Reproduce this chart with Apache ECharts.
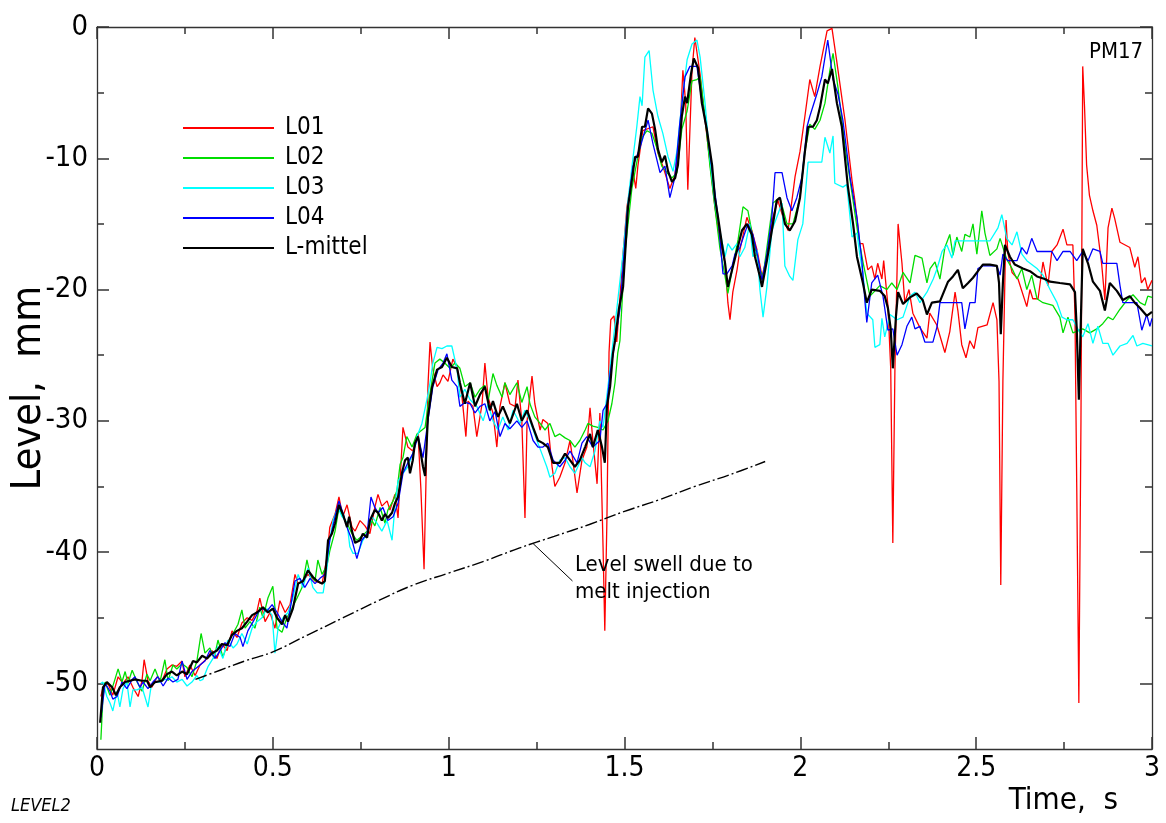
<!DOCTYPE html>
<html>
<head>
<meta charset="utf-8">
<title>PM17 level</title>
<script src="https://cdn.jsdelivr.net/npm/echarts@6/dist/echarts.min.js"></script>
<style>
  html, body { margin: 0; padding: 0; background: #fff; }
  #chart { width: 1166px; height: 823px; }
</style>
</head>
<body>
<div id="chart"></div>
<script>
// Level traces of the four probes and their mean, [time s, level mm]
const L01 = [[0.011,-51.0],[0.017,-50.3],[0.031,-50.0],[0.045,-50.9],[0.060,-49.5],[0.074,-50.0],[0.088,-49.5],[0.102,-50.3],[0.117,-51.0],[0.128,-49.8],[0.134,-48.2],[0.145,-49.8],[0.156,-50.3],[0.171,-49.5],[0.185,-49.8],[0.199,-48.9],[0.213,-48.6],[0.227,-48.7],[0.242,-48.3],[0.250,-49.5],[0.264,-48.6],[0.279,-49.4],[0.293,-48.6],[0.313,-48.1],[0.327,-47.5],[0.341,-48.1],[0.355,-47.0],[0.370,-47.5],[0.384,-46.0],[0.398,-46.5],[0.412,-45.4],[0.427,-45.0],[0.441,-45.2],[0.455,-44.5],[0.463,-43.5],[0.478,-45.3],[0.492,-44.6],[0.506,-45.8],[0.520,-43.7],[0.535,-44.6],[0.549,-44.0],[0.563,-41.7],[0.572,-42.4],[0.586,-42.2],[0.600,-41.7],[0.620,-42.2],[0.640,-42.4],[0.654,-40.4],[0.662,-38.1],[0.677,-37.1],[0.688,-35.8],[0.699,-37.3],[0.711,-36.4],[0.725,-38.1],[0.734,-38.4],[0.748,-37.6],[0.762,-38.0],[0.776,-38.6],[0.790,-36.6],[0.799,-35.6],[0.810,-36.5],[0.825,-36.1],[0.833,-36.8],[0.847,-35.6],[0.856,-37.4],[0.867,-32.0],[0.870,-30.5],[0.884,-32.0],[0.898,-32.3],[0.913,-31.0],[0.921,-35.2],[0.930,-41.3],[0.935,-35.2],[0.941,-27.4],[0.947,-24.0],[0.955,-26.1],[0.967,-27.4],[0.975,-27.1],[0.984,-26.5],[0.998,-27.0],[1.012,-25.3],[1.024,-25.9],[1.038,-28.2],[1.049,-31.2],[1.055,-28.5],[1.069,-28.9],[1.080,-31.2],[1.095,-28.7],[1.103,-25.6],[1.112,-28.2],[1.126,-29.4],[1.137,-32.0],[1.146,-28.9],[1.160,-27.1],[1.174,-28.7],[1.189,-28.9],[1.197,-26.9],[1.208,-30.0],[1.217,-37.4],[1.223,-30.0],[1.237,-26.6],[1.245,-28.7],[1.260,-30.7],[1.268,-29.9],[1.282,-30.2],[1.294,-33.5],[1.302,-35.0],[1.316,-34.3],[1.331,-33.2],[1.345,-31.5],[1.353,-33.0],[1.365,-35.5],[1.379,-33.0],[1.393,-32.0],[1.402,-29.0],[1.410,-31.5],[1.422,-34.8],[1.430,-29.4],[1.439,-39.6],[1.444,-46.0],[1.450,-37.5],[1.456,-24.8],[1.461,-22.3],[1.470,-22.0],[1.478,-24.0],[1.496,-17.2],[1.507,-13.7],[1.524,-10.9],[1.532,-12.3],[1.538,-10.6],[1.552,-7.9],[1.581,-7.6],[1.595,-9.6],[1.609,-10.6],[1.629,-12.3],[1.643,-11.3],[1.657,-8.5],[1.666,-3.3],[1.674,-5.8],[1.680,-12.4],[1.692,-3.3],[1.700,-0.8],[1.715,-3.6],[1.729,-7.1],[1.743,-10.3],[1.757,-13.7],[1.771,-16.2],[1.786,-18.0],[1.794,-21.0],[1.800,-22.3],[1.808,-20.2],[1.820,-18.5],[1.828,-17.0],[1.848,-14.5],[1.862,-15.5],[1.877,-17.0],[1.891,-19.0],[1.905,-17.5],[1.922,-14.5],[1.936,-13.2],[1.951,-14.5],[1.965,-15.5],[1.985,-11.4],[1.999,-9.5],[2.013,-6.8],[2.027,-4.0],[2.041,-5.3],[2.056,-3.0],[2.076,-0.3],[2.090,-0.1],[2.104,-2.7],[2.127,-7.1],[2.147,-11.7],[2.155,-13.2],[2.169,-16.5],[2.178,-16.5],[2.192,-18.5],[2.203,-18.2],[2.212,-19.2],[2.220,-18.0],[2.232,-19.2],[2.237,-17.8],[2.249,-21.2],[2.257,-26.0],[2.263,-39.3],[2.269,-26.0],[2.278,-15.0],[2.289,-18.0],[2.297,-21.0],[2.309,-20.0],[2.320,-21.8],[2.340,-22.9],[2.360,-23.7],[2.368,-21.8],[2.388,-22.7],[2.411,-24.8],[2.425,-23.2],[2.440,-20.2],[2.448,-21.6],[2.459,-24.2],[2.471,-25.2],[2.482,-23.9],[2.494,-24.5],[2.505,-22.9],[2.531,-22.7],[2.548,-21.0],[2.559,-22.3],[2.565,-27.0],[2.570,-42.5],[2.576,-27.0],[2.585,-14.7],[2.590,-17.2],[2.602,-18.7],[2.619,-19.2],[2.644,-21.3],[2.653,-20.0],[2.661,-20.7],[2.676,-20.7],[2.690,-17.9],[2.704,-19.7],[2.715,-17.1],[2.730,-16.6],[2.747,-15.4],[2.758,-16.6],[2.775,-16.6],[2.781,-22.0],[2.786,-35.0],[2.792,-51.5],[2.798,-30.0],[2.803,-3.0],[2.808,-6.0],[2.814,-10.5],[2.822,-12.8],[2.832,-14.0],[2.843,-15.1],[2.857,-18.1],[2.866,-20.8],[2.875,-15.3],[2.886,-13.8],[2.894,-14.6],[2.909,-16.4],[2.937,-16.8],[2.951,-18.3],[2.960,-17.5],[2.970,-19.5],[2.980,-19.1],[2.988,-20.0],[3.000,-19.3]];

const L02 = [[0.011,-54.3],[0.017,-51.0],[0.023,-49.9],[0.037,-50.9],[0.051,-49.7],[0.060,-48.9],[0.071,-49.9],[0.080,-49.1],[0.088,-50.0],[0.100,-49.0],[0.114,-49.9],[0.128,-50.6],[0.142,-49.3],[0.151,-49.8],[0.165,-48.9],[0.179,-49.9],[0.193,-48.2],[0.202,-49.8],[0.216,-48.6],[0.227,-48.9],[0.242,-48.5],[0.256,-48.8],[0.270,-49.5],[0.284,-48.3],[0.296,-46.2],[0.307,-47.7],[0.321,-47.3],[0.333,-48.1],[0.344,-46.7],[0.358,-48.0],[0.372,-46.9],[0.387,-46.2],[0.401,-45.5],[0.412,-44.4],[0.421,-45.8],[0.435,-45.3],[0.449,-45.8],[0.463,-44.2],[0.472,-45.0],[0.486,-43.5],[0.500,-42.6],[0.512,-45.8],[0.526,-46.1],[0.540,-45.0],[0.554,-44.3],[0.569,-43.5],[0.583,-42.7],[0.597,-40.6],[0.606,-41.7],[0.620,-42.2],[0.628,-40.6],[0.640,-41.7],[0.654,-41.0],[0.662,-39.9],[0.677,-38.4],[0.688,-36.6],[0.699,-37.3],[0.711,-37.8],[0.725,-38.6],[0.739,-39.1],[0.753,-38.8],[0.768,-38.4],[0.782,-37.6],[0.790,-38.0],[0.805,-36.6],[0.819,-37.8],[0.827,-36.8],[0.842,-36.1],[0.853,-35.3],[0.862,-33.3],[0.870,-32.8],[0.881,-31.2],[0.896,-32.0],[0.910,-31.0],[0.924,-30.7],[0.933,-30.5],[0.941,-28.9],[0.953,-26.9],[0.961,-25.6],[0.975,-25.3],[0.989,-25.6],[1.004,-26.0],[1.018,-25.6],[1.032,-26.0],[1.046,-27.4],[1.061,-27.1],[1.075,-28.2],[1.089,-27.6],[1.103,-27.3],[1.112,-28.5],[1.126,-26.4],[1.137,-27.3],[1.152,-28.2],[1.160,-27.1],[1.174,-28.0],[1.194,-27.1],[1.208,-28.6],[1.223,-27.4],[1.231,-28.7],[1.245,-29.7],[1.260,-30.2],[1.274,-30.7],[1.288,-30.2],[1.302,-31.2],[1.316,-31.0],[1.331,-31.3],[1.345,-31.5],[1.359,-32.0],[1.373,-31.5],[1.388,-30.7],[1.396,-30.2],[1.410,-30.4],[1.424,-30.5],[1.439,-30.7],[1.453,-30.0],[1.464,-28.7],[1.473,-27.1],[1.481,-24.8],[1.487,-23.9],[1.501,-17.2],[1.521,-12.3],[1.535,-10.3],[1.550,-8.4],[1.564,-7.9],[1.578,-8.1],[1.592,-9.2],[1.606,-10.6],[1.621,-11.1],[1.635,-11.5],[1.649,-11.1],[1.663,-7.8],[1.678,-6.4],[1.692,-4.1],[1.706,-4.0],[1.715,-3.8],[1.729,-6.8],[1.743,-10.6],[1.757,-13.7],[1.771,-16.8],[1.786,-19.0],[1.794,-20.3],[1.808,-18.2],[1.823,-16.2],[1.837,-13.7],[1.851,-14.0],[1.865,-16.0],[1.885,-18.5],[1.894,-19.0],[1.908,-16.2],[1.922,-13.4],[1.942,-13.0],[1.962,-15.0],[1.979,-15.0],[1.999,-13.0],[2.013,-9.5],[2.027,-7.4],[2.041,-7.8],[2.056,-7.1],[2.070,-5.8],[2.084,-3.3],[2.093,-2.0],[2.107,-4.6],[2.127,-9.1],[2.147,-12.7],[2.164,-15.8],[2.178,-17.9],[2.198,-20.5],[2.226,-19.7],[2.246,-20.0],[2.260,-19.5],[2.275,-20.0],[2.292,-18.7],[2.312,-19.5],[2.326,-17.4],[2.346,-17.6],[2.360,-19.5],[2.369,-18.4],[2.383,-17.9],[2.397,-19.2],[2.411,-16.8],[2.425,-15.8],[2.434,-17.4],[2.445,-16.0],[2.459,-17.1],[2.468,-15.8],[2.482,-16.0],[2.491,-15.0],[2.502,-17.3],[2.516,-14.0],[2.525,-15.7],[2.539,-17.4],[2.559,-16.9],[2.568,-16.1],[2.587,-17.7],[2.602,-18.4],[2.616,-19.2],[2.630,-18.4],[2.644,-20.0],[2.658,-18.9],[2.673,-20.7],[2.690,-21.0],[2.718,-21.2],[2.738,-22.1],[2.747,-23.3],[2.761,-22.1],[2.775,-23.3],[2.803,-23.0],[2.823,-23.3],[2.843,-23.0],[2.860,-22.6],[2.875,-22.1],[2.889,-22.3],[2.909,-21.5],[2.929,-20.8],[2.946,-20.4],[2.966,-21.0],[2.980,-21.2],[2.988,-20.5],[3.000,-20.6]];

const L03 = [[0.011,-50.0],[0.017,-49.9],[0.028,-51.0],[0.037,-51.5],[0.045,-52.1],[0.057,-50.6],[0.065,-51.8],[0.074,-50.4],[0.085,-49.9],[0.094,-51.8],[0.102,-50.5],[0.114,-50.5],[0.128,-50.3],[0.136,-51.0],[0.145,-51.8],[0.154,-50.2],[0.165,-49.9],[0.179,-49.9],[0.193,-49.7],[0.202,-49.7],[0.213,-49.5],[0.227,-49.9],[0.242,-49.7],[0.256,-50.2],[0.270,-49.9],[0.284,-49.4],[0.293,-49.8],[0.301,-49.7],[0.316,-48.7],[0.330,-48.1],[0.344,-47.2],[0.358,-48.1],[0.372,-46.7],[0.387,-47.3],[0.398,-47.0],[0.412,-46.2],[0.427,-47.0],[0.441,-45.8],[0.455,-45.3],[0.469,-45.0],[0.483,-44.3],[0.498,-44.8],[0.506,-47.7],[0.515,-45.8],[0.529,-45.0],[0.543,-44.6],[0.557,-43.5],[0.572,-41.7],[0.586,-42.7],[0.600,-41.2],[0.614,-42.7],[0.626,-43.1],[0.643,-43.1],[0.654,-41.2],[0.662,-39.1],[0.671,-37.6],[0.685,-36.6],[0.697,-37.3],[0.711,-37.8],[0.719,-39.6],[0.728,-40.1],[0.742,-40.1],[0.756,-39.1],[0.768,-38.6],[0.782,-37.3],[0.796,-37.8],[0.810,-38.4],[0.825,-37.6],[0.839,-39.1],[0.847,-36.6],[0.856,-34.6],[0.870,-34.0],[0.884,-33.5],[0.898,-32.5],[0.910,-31.2],[0.924,-30.2],[0.938,-28.4],[0.947,-27.1],[0.955,-25.6],[0.967,-24.4],[0.981,-24.5],[0.995,-24.3],[1.009,-24.3],[1.024,-26.1],[1.032,-28.2],[1.046,-27.6],[1.061,-28.4],[1.080,-28.9],[1.098,-30.0],[1.112,-28.7],[1.126,-30.0],[1.140,-30.7],[1.154,-29.7],[1.169,-30.7],[1.183,-29.2],[1.203,-30.2],[1.217,-29.2],[1.231,-30.0],[1.251,-31.5],[1.265,-32.5],[1.279,-33.5],[1.288,-34.3],[1.302,-34.0],[1.316,-33.0],[1.331,-32.8],[1.345,-33.5],[1.359,-34.0],[1.379,-32.8],[1.388,-33.2],[1.402,-33.5],[1.416,-32.3],[1.430,-30.0],[1.439,-30.5],[1.453,-27.4],[1.464,-24.8],[1.481,-20.8],[1.496,-17.2],[1.510,-13.2],[1.524,-10.0],[1.535,-7.6],[1.544,-5.3],[1.550,-6.0],[1.558,-2.3],[1.570,-1.8],[1.581,-4.8],[1.595,-6.8],[1.609,-8.1],[1.624,-9.9],[1.638,-11.0],[1.649,-9.5],[1.663,-5.8],[1.678,-2.5],[1.692,-1.3],[1.706,-1.0],[1.715,-2.3],[1.729,-5.8],[1.743,-10.0],[1.757,-13.4],[1.771,-15.5],[1.786,-17.5],[1.794,-16.5],[1.806,-17.0],[1.820,-16.5],[1.828,-17.5],[1.842,-16.8],[1.856,-15.0],[1.865,-17.5],[1.877,-17.0],[1.885,-20.0],[1.894,-22.1],[1.905,-19.8],[1.919,-15.5],[1.933,-14.5],[1.948,-13.4],[1.956,-18.2],[1.970,-19.0],[1.979,-19.3],[1.993,-16.2],[2.007,-15.0],[2.022,-10.3],[2.061,-10.3],[2.070,-8.4],[2.084,-9.6],[2.093,-8.3],[2.098,-11.9],[2.121,-12.2],[2.132,-12.0],[2.147,-16.0],[2.161,-15.7],[2.169,-17.3],[2.178,-18.8],[2.189,-21.8],[2.206,-22.3],[2.212,-24.4],[2.226,-24.2],[2.232,-22.2],[2.240,-23.6],[2.255,-21.9],[2.275,-22.3],[2.292,-22.1],[2.312,-20.5],[2.326,-20.2],[2.340,-21.0],[2.360,-20.2],[2.378,-19.2],[2.389,-18.4],[2.403,-17.1],[2.417,-16.6],[2.431,-17.6],[2.440,-16.3],[2.454,-16.3],[2.491,-16.3],[2.539,-16.3],[2.562,-15.3],[2.573,-14.3],[2.587,-16.1],[2.602,-16.6],[2.616,-15.6],[2.630,-17.3],[2.644,-17.8],[2.673,-18.4],[2.690,-18.9],[2.710,-20.0],[2.730,-21.0],[2.744,-22.1],[2.758,-22.3],[2.775,-22.3],[2.789,-23.0],[2.803,-23.6],[2.818,-22.6],[2.832,-24.1],[2.846,-22.8],[2.860,-24.1],[2.875,-24.1],[2.889,-25.0],[2.909,-24.3],[2.929,-24.1],[2.946,-23.5],[2.957,-24.3],[2.974,-24.1],[3.000,-24.3]];

const L04 = [[0.011,-52.6],[0.023,-50.0],[0.037,-50.6],[0.045,-51.2],[0.057,-51.0],[0.071,-49.9],[0.085,-50.4],[0.100,-49.7],[0.108,-49.5],[0.122,-50.3],[0.131,-49.9],[0.145,-50.4],[0.159,-49.9],[0.173,-49.5],[0.188,-50.2],[0.202,-49.6],[0.216,-49.9],[0.230,-49.7],[0.242,-48.3],[0.256,-49.7],[0.270,-49.1],[0.279,-48.9],[0.293,-48.6],[0.307,-48.3],[0.321,-47.5],[0.336,-48.1],[0.350,-47.5],[0.364,-46.9],[0.378,-47.2],[0.392,-46.2],[0.407,-46.5],[0.415,-47.2],[0.429,-46.0],[0.444,-45.3],[0.458,-44.6],[0.469,-44.3],[0.483,-44.5],[0.498,-44.0],[0.512,-44.6],[0.526,-45.3],[0.540,-45.8],[0.549,-44.4],[0.563,-42.2],[0.577,-42.0],[0.591,-42.7],[0.606,-42.0],[0.620,-42.4],[0.634,-42.0],[0.648,-41.7],[0.662,-39.1],[0.677,-37.3],[0.688,-36.1],[0.699,-37.0],[0.711,-38.1],[0.725,-39.1],[0.739,-40.5],[0.753,-39.1],[0.768,-38.6],[0.779,-35.8],[0.790,-36.6],[0.799,-37.0],[0.813,-36.6],[0.827,-37.6],[0.842,-37.3],[0.856,-36.3],[0.870,-34.0],[0.884,-33.2],[0.898,-32.5],[0.913,-31.2],[0.927,-32.8],[0.941,-30.0],[0.955,-27.4],[0.970,-26.1],[0.984,-25.6],[0.995,-24.9],[1.009,-26.9],[1.024,-27.4],[1.032,-28.9],[1.046,-28.6],[1.061,-28.7],[1.075,-29.4],[1.089,-28.9],[1.103,-28.7],[1.117,-30.0],[1.132,-29.3],[1.146,-31.2],[1.160,-30.2],[1.174,-30.6],[1.194,-30.0],[1.208,-30.5],[1.223,-30.0],[1.240,-31.5],[1.254,-32.0],[1.268,-32.0],[1.282,-31.7],[1.297,-33.0],[1.316,-33.5],[1.331,-33.0],[1.345,-32.3],[1.365,-33.2],[1.379,-31.7],[1.393,-31.2],[1.410,-32.0],[1.430,-31.5],[1.439,-29.2],[1.450,-28.7],[1.459,-26.4],[1.473,-23.9],[1.487,-21.5],[1.507,-14.3],[1.524,-10.6],[1.544,-9.2],[1.567,-7.1],[1.581,-8.9],[1.601,-11.1],[1.615,-10.6],[1.629,-13.0],[1.643,-11.5],[1.657,-7.4],[1.672,-3.8],[1.686,-3.0],[1.706,-3.0],[1.720,-5.6],[1.734,-7.8],[1.751,-11.3],[1.766,-14.5],[1.780,-18.8],[1.791,-18.8],[1.806,-18.2],[1.814,-17.3],[1.828,-16.8],[1.851,-15.0],[1.865,-15.8],[1.879,-17.5],[1.891,-19.3],[1.905,-17.3],[1.919,-14.5],[1.928,-11.1],[1.948,-11.1],[1.962,-13.0],[1.976,-14.0],[1.990,-13.0],[2.005,-11.4],[2.019,-7.6],[2.027,-6.8],[2.047,-5.1],[2.061,-3.8],[2.078,-1.0],[2.093,-4.0],[2.107,-5.1],[2.121,-7.1],[2.141,-11.4],[2.161,-14.5],[2.175,-17.8],[2.184,-21.0],[2.189,-22.5],[2.203,-19.5],[2.220,-18.9],[2.235,-20.5],[2.249,-23.1],[2.263,-23.0],[2.275,-25.0],[2.289,-24.2],[2.303,-22.8],[2.317,-22.1],[2.326,-23.0],[2.340,-22.8],[2.354,-24.0],[2.377,-24.0],[2.389,-22.8],[2.397,-21.0],[2.445,-21.0],[2.459,-21.0],[2.468,-23.0],[2.482,-21.0],[2.497,-21.0],[2.505,-18.4],[2.519,-18.2],[2.559,-18.2],[2.568,-18.9],[2.576,-17.3],[2.590,-17.8],[2.616,-17.8],[2.630,-16.8],[2.644,-17.3],[2.658,-16.1],[2.673,-17.1],[2.690,-17.1],[2.715,-17.1],[2.730,-17.8],[2.747,-17.1],[2.767,-17.1],[2.786,-17.8],[2.803,-17.1],[2.818,-17.8],[2.832,-16.9],[2.852,-17.1],[2.860,-18.0],[2.900,-18.0],[2.909,-19.7],[2.917,-21.0],[2.957,-21.0],[2.971,-23.1],[2.985,-21.9],[2.994,-22.8],[3.000,-22.2]];

const LMITTEL = [[0.009,-53.0],[0.017,-50.3],[0.028,-49.9],[0.043,-50.3],[0.054,-50.9],[0.065,-50.3],[0.080,-49.9],[0.094,-49.8],[0.108,-49.7],[0.128,-49.8],[0.142,-49.8],[0.151,-50.3],[0.165,-49.9],[0.185,-49.8],[0.199,-49.3],[0.213,-49.1],[0.227,-49.4],[0.242,-49.1],[0.256,-49.3],[0.273,-48.3],[0.284,-48.4],[0.299,-47.9],[0.313,-48.1],[0.327,-47.7],[0.341,-47.5],[0.355,-47.0],[0.370,-47.1],[0.384,-46.3],[0.398,-46.0],[0.412,-45.8],[0.427,-45.3],[0.441,-44.8],[0.455,-44.6],[0.472,-44.2],[0.486,-44.6],[0.500,-44.3],[0.512,-45.0],[0.526,-45.5],[0.535,-44.8],[0.543,-45.3],[0.557,-44.3],[0.572,-42.4],[0.586,-42.2],[0.600,-41.4],[0.614,-41.9],[0.626,-42.2],[0.640,-42.4],[0.648,-42.2],[0.657,-39.1],[0.668,-38.6],[0.677,-37.8],[0.688,-36.4],[0.699,-37.1],[0.711,-38.1],[0.717,-37.3],[0.725,-38.4],[0.734,-39.3],[0.748,-39.1],[0.756,-38.6],[0.768,-38.9],[0.776,-37.6],[0.790,-36.8],[0.799,-37.0],[0.810,-37.6],[0.819,-37.1],[0.827,-37.4],[0.839,-37.0],[0.847,-36.3],[0.856,-35.8],[0.867,-34.0],[0.876,-33.0],[0.884,-32.8],[0.890,-34.0],[0.898,-33.0],[0.904,-31.7],[0.913,-31.2],[0.927,-33.5],[0.933,-34.2],[0.941,-29.7],[0.953,-27.4],[0.967,-26.1],[0.981,-25.9],[0.995,-25.2],[1.009,-25.9],[1.024,-26.0],[1.032,-27.1],[1.046,-28.7],[1.061,-27.1],[1.075,-28.9],[1.089,-28.0],[1.103,-27.4],[1.117,-29.2],[1.126,-28.5],[1.140,-29.7],[1.154,-28.9],[1.174,-30.2],[1.194,-28.7],[1.208,-30.0],[1.223,-29.2],[1.240,-30.5],[1.254,-31.5],[1.268,-31.7],[1.282,-32.0],[1.297,-33.2],[1.316,-33.2],[1.331,-32.5],[1.345,-33.0],[1.359,-33.5],[1.373,-33.0],[1.388,-32.0],[1.402,-31.0],[1.410,-32.0],[1.424,-30.7],[1.436,-32.0],[1.444,-33.2],[1.450,-28.9],[1.459,-27.4],[1.467,-24.9],[1.473,-23.9],[1.484,-21.5],[1.496,-19.8],[1.510,-13.7],[1.524,-11.1],[1.530,-9.9],[1.538,-9.9],[1.550,-7.6],[1.558,-7.6],[1.567,-6.2],[1.578,-6.6],[1.587,-7.8],[1.595,-9.3],[1.606,-10.3],[1.615,-9.8],[1.624,-11.0],[1.635,-11.8],[1.644,-11.5],[1.652,-10.5],[1.663,-6.8],[1.672,-5.3],[1.678,-5.8],[1.689,-3.6],[1.697,-2.4],[1.709,-3.1],[1.720,-5.8],[1.734,-7.8],[1.749,-10.5],[1.757,-13.0],[1.766,-14.5],[1.777,-16.5],[1.786,-18.0],[1.794,-19.8],[1.806,-18.5],[1.820,-17.0],[1.834,-15.5],[1.848,-15.0],[1.862,-15.8],[1.871,-17.5],[1.885,-19.0],[1.891,-19.8],[1.905,-17.8],[1.919,-15.5],[1.933,-13.2],[1.942,-13.0],[1.956,-15.0],[1.970,-15.5],[1.985,-14.8],[1.999,-13.0],[2.013,-9.5],[2.022,-7.6],[2.036,-7.6],[2.047,-7.1],[2.056,-6.1],[2.070,-4.0],[2.078,-4.3],[2.090,-3.2],[2.104,-5.8],[2.118,-7.6],[2.135,-12.1],[2.150,-15.0],[2.161,-17.5],[2.178,-19.5],[2.189,-21.0],[2.203,-20.0],[2.226,-20.1],[2.240,-20.5],[2.249,-21.4],[2.257,-23.0],[2.263,-26.0],[2.272,-22.0],[2.278,-20.2],[2.292,-21.1],[2.312,-20.6],[2.331,-20.3],[2.348,-20.8],[2.360,-21.9],[2.374,-21.0],[2.397,-20.9],[2.420,-19.4],[2.434,-19.0],[2.448,-18.5],[2.462,-19.9],[2.477,-19.5],[2.491,-19.1],[2.505,-18.6],[2.519,-18.1],[2.539,-18.1],[2.559,-18.2],[2.565,-19.5],[2.570,-23.4],[2.576,-19.5],[2.582,-16.6],[2.596,-17.5],[2.610,-18.1],[2.633,-18.4],[2.653,-18.6],[2.673,-19.0],[2.695,-19.2],[2.710,-19.4],[2.738,-19.5],[2.767,-19.6],[2.781,-20.2],[2.786,-23.0],[2.792,-28.4],[2.798,-22.0],[2.803,-16.9],[2.818,-18.0],[2.832,-19.4],[2.852,-20.1],[2.866,-21.6],[2.880,-19.5],[2.900,-20.1],[2.917,-20.8],[2.937,-20.5],[2.951,-21.0],[2.966,-21.4],[2.985,-22.0],[3.000,-21.7]];

// Estimated swell of the level caused by the melt injection
const SWELL = [[0.28,-49.7],[0.35,-49.0],[0.42,-48.3],[0.50,-47.6],[0.60,-46.3],[0.70,-45.0],[0.80,-43.7],[0.90,-42.5],[1.00,-41.6],[1.10,-40.7],[1.20,-39.7],[1.30,-38.8],[1.40,-37.9],[1.50,-36.9],[1.60,-36.0],[1.70,-35.0],[1.80,-34.1],[1.90,-33.1]];

const SERIES_NAMES = ['L01', 'L02', 'L03', 'L04', 'L-mittel'];
const SERIES_COLORS = ['#ff0000', '#00dd00', '#00ffff', '#0000ff', '#000000'];
const Y_MAJOR = [-50, -40, -30, -20, -10, 0];
const Y_MINOR = [-45, -35, -25, -15, -5];
const SWELL_NOTE = 'Level swell due to\nmelt injection';

const FONT = "'Liberation Sans Narrow', 'Arial Narrow', 'DejaVu Sans Condensed', 'Liberation Sans', Arial, sans-serif";
const AXIS_COLOR = '#333';

const chart = echarts.init(document.getElementById('chart'), null, { renderer: 'canvas' });

function xAxisDef(pos, withLabels) {
  return {
    type: 'value', gridIndex: 0, position: pos, min: 0, max: 3, interval: 0.5,
    axisLine: { show: true, onZero: false, lineStyle: { color: AXIS_COLOR, width: 1.3 } },
    axisTick: { show: true, inside: true, length: 12, lineStyle: { color: AXIS_COLOR, width: 1.5 } },
    minorTick: { show: true, splitNumber: 2, length: 7, lineStyle: { color: AXIS_COLOR, width: 1.5 } },
    axisLabel: withLabels ? { show: true, margin: 6, color: '#000', fontFamily: FONT, fontSize: 28 } : { show: false },
    splitLine: { show: false },
    minorSplitLine: { show: false }
  };
}

function yAxisDef(pos, ticks, tickLen, withLabels, showLine) {
  return {
    type: 'value', gridIndex: 0, position: pos, min: -55, max: 0, offset: 0,
    axisLine: { show: showLine, onZero: false, lineStyle: { color: AXIS_COLOR, width: 1.3 } },
    axisTick: { show: true, inside: true, length: tickLen, customValues: ticks, lineStyle: { color: AXIS_COLOR, width: 1.5 } },
    axisLabel: withLabels ? { show: true, margin: 9, color: '#000', fontFamily: FONT, fontSize: 29, customValues: ticks } : { show: false },
    splitLine: { show: false }
  };
}

const xBottom = xAxisDef('bottom', true);
xBottom.name = 'Time,  s';
xBottom.nameLocation = 'end';
xBottom.nameGap = -34;
xBottom.nameMoveOverlap = false;
xBottom.nameTextStyle = { color: '#000', fontFamily: FONT, fontSize: 31, align: 'right', verticalAlign: 'top', padding: [36, 0, 0, 0] };

const yLeft = yAxisDef('left', Y_MAJOR, 12, true, true);
yLeft.name = 'Level,  mm';
yLeft.nameLocation = 'middle';
yLeft.nameRotate = 90;
yLeft.nameGap = 47;
yLeft.nameMoveOverlap = false;
yLeft.nameTextStyle = { color: '#000', fontFamily: FONT, fontSize: 41 };

const traces = [L01, L02, L03, L04, LMITTEL];

const lineSeries = traces.map((d, i) => ({
  name: SERIES_NAMES[i],
  type: 'line',
  xAxisIndex: 0, yAxisIndex: 0,
  data: d,
  symbol: 'none',
  smooth: false,
  z: 2 + i,
  lineStyle: { color: SERIES_COLORS[i], width: i === 4 ? 2.2 : 1.3 },
  itemStyle: { color: SERIES_COLORS[i] }
}));

const swellSeries = {
  name: 'swell',
  type: 'line',
  xAxisIndex: 0, yAxisIndex: 0,
  data: SWELL,
  symbol: 'none',
  smooth: 0.4,
  z: 8,
  lineStyle: { color: '#000', width: 1.4, type: [12, 3, 2, 3] },
  markLine: {
    silent: true,
    symbol: ['none', 'none'],
    label: { show: false },
    lineStyle: { color: '#000', width: 1, type: 'solid' },
    data: [[{ coord: [1.240, -39.35] }, { coord: [1.352, -42.2] }]]
  },
  markPoint: {
    silent: true,
    symbol: 'circle',
    symbolSize: 0,
    data: [{ coord: [1.359, -42.0] }],
    label: {
      show: true, position: 'right', distance: 0,
      formatter: SWELL_NOTE,
      color: '#000', fontFamily: FONT, fontSize: 22, lineHeight: 27, align: 'left'
    }
  }
};

chart.setOption({
  animation: false,
  backgroundColor: '#ffffff',
  grid: { left: 97, right: 14, top: 27, bottom: 74, containLabel: false, outerBoundsMode: 'none' },
  xAxis: [xBottom, xAxisDef('top', false)],
  yAxis: [
    yLeft,
    yAxisDef('left', Y_MINOR, 7, false, false),
    yAxisDef('right', Y_MAJOR, 12, false, true),
    yAxisDef('right', Y_MINOR, 7, false, false)
  ],
  legend: {
    data: SERIES_NAMES,
    orient: 'vertical',
    left: 183, top: 116,
    padding: 0,
    icon: 'rect',
    itemWidth: 91, itemHeight: 2, itemGap: 6,
    textStyle: { color: '#000', fontFamily: FONT, fontSize: 24, lineHeight: 24, padding: [0, 0, 0, 6] }
  },
  graphic: [
    { type: 'text', left: 1089, top: 41, style: { text: 'PM17', fill: '#000', font: "22px " + FONT } },
    { type: 'text', left: 11, top: 797, style: { text: 'LEVEL2', fill: '#000', font: "italic 18px " + FONT } }
  ],
  series: lineSeries.concat([swellSeries])
});
</script>
</body>
</html>
